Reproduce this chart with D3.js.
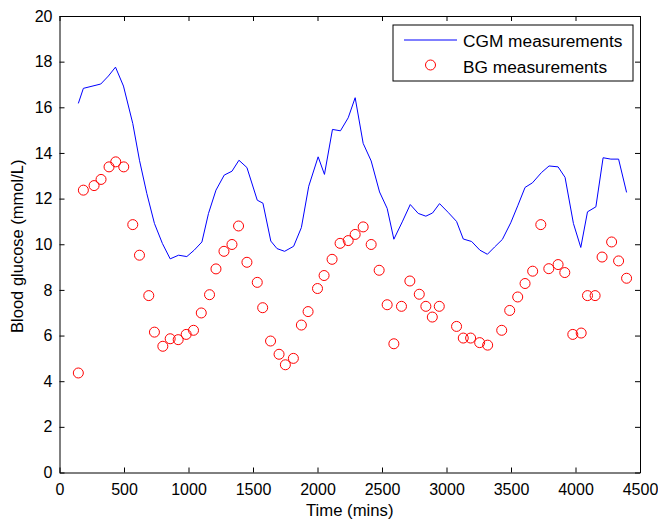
<!DOCTYPE html>
<html>
<head>
<meta charset="utf-8">
<script src="https://cdn.jsdelivr.net/npm/d3@7"></script>
<style>
    body { margin: 0; background: #fff; }
    svg { display: block; font-family: Arial, "Liberation Sans", sans-serif; }
</style>
</head>
<body>
<div id="chart"></div>
<script>
// CGM sensor trace (time in minutes, glucose in mmol/L)
const cgmTime = [146, 185, 320, 379, 434, 496, 568, 620, 677, 736, 798, 858, 923, 987, 1044, 1104,
    1155, 1213, 1277, 1337, 1391, 1453, 1533, 1577, 1638, 1686, 1745, 1815, 1875, 1932, 2005, 2054,
    2116, 2178, 2238, 2292, 2354, 2416, 2481, 2540, 2592, 2657, 2719, 2781, 2840, 2892, 2946, 3012,
    3078, 3130, 3195, 3259, 3317, 3373, 3433, 3498, 3554, 3609, 3666, 3736, 3795, 3865, 3919, 3984,
    4041, 4093, 4158, 4214, 4274, 4334, 4396];
const cgmValue = [16.17, 16.83, 17.02, 17.37, 17.76, 16.93, 15.29, 13.68, 12.22, 10.91, 10.03, 9.36, 9.52, 9.46, 9.74, 10.1,
    11.35, 12.37, 13.03, 13.2, 13.68, 13.36, 11.93, 11.8, 10.14, 9.81, 9.69, 9.91, 10.73, 12.54, 13.83, 13.06,
    15.03, 14.97, 15.54, 16.42, 14.42, 13.65, 12.29, 11.57, 10.22, 10.98, 11.74, 11.35, 11.23, 11.37, 11.78, 11.4,
    11.0, 10.23, 10.12, 9.74, 9.56, 9.88, 10.21, 10.94, 11.71, 12.49, 12.69, 13.14, 13.43, 13.39, 12.93, 10.91,
    9.86, 11.42, 11.64, 13.79, 13.73, 13.73, 12.27];

// finger-prick blood glucose measurements
const bgTime = [146, 185, 268, 322, 384, 436, 498, 568, 620, 692, 736, 801, 858, 920, 982, 1039,
    1099, 1163, 1213, 1275, 1337, 1388, 1453, 1533, 1575, 1636, 1702, 1751, 1813, 1875, 1927, 2000,
    2051, 2113, 2175, 2238, 2292, 2354, 2416, 2478, 2540, 2592, 2651, 2716, 2789, 2840, 2890, 2944,
    3078, 3130, 3187, 3257, 3319, 3428, 3490, 3552, 3609, 3668, 3731, 3793, 3865, 3917, 3979, 4044,
    4093, 4152, 4206, 4280, 4334, 4396];
const bgValue = [4.36, 12.37, 12.57, 12.84, 13.39, 13.61, 13.39, 10.86, 9.52, 7.75, 6.15, 5.53, 5.86, 5.82, 6.05, 6.23,
    6.99, 7.79, 8.92, 9.69, 9.99, 10.8, 9.21, 8.33, 7.22, 5.76, 5.18, 4.72, 5.0, 6.46, 7.05, 8.06,
    8.63, 9.34, 10.04, 10.16, 10.43, 10.76, 9.99, 8.86, 7.35, 5.64, 7.28, 8.39, 7.81, 7.28, 6.81, 7.28,
    6.4, 5.89, 5.89, 5.69, 5.58, 6.23, 7.1, 7.69, 8.28, 8.82, 10.86, 8.93, 9.11, 8.76, 6.05, 6.11,
    7.75, 7.75, 9.44, 10.1, 9.27, 8.51];

const xTicks = d3.range(0, 4501, 500);
const yTicks = d3.range(0, 21, 2);
const seriesNames = ['CGM measurements', 'BG measurements'];

const width = 658, height = 521;
const plot = { left: 59.5, right: 640, top: 16, bottom: 472.5 };

const svg = d3.select('#chart').append('svg')
    .attr('width', width)
    .attr('height', height);

const xScale = d3.scaleLinear().domain([0, 4500]).range([plot.left, plot.right]);
const yScale = d3.scaleLinear().domain([0, 20]).range([plot.bottom, plot.top]);

// axes, ticks pointing inward like matlab
const xAxis = d3.axisBottom(xScale).tickValues(xTicks).tickFormat(d3.format('d'))
    .tickSize(-5).tickSizeOuter(0).tickPadding(11);
const yAxis = d3.axisLeft(yScale).tickValues(yTicks).tickFormat(d3.format('d'))
    .tickSize(-5).tickSizeOuter(0).tickPadding(7);

svg.append('g')
    .attr('class', 'x axis')
    .attr('transform', `translate(0,${plot.bottom})`)
    .call(xAxis);
svg.append('g')
    .attr('class', 'x axis top')
    .attr('transform', `translate(0,${plot.top})`)
    .call(d3.axisTop(xScale).tickValues(xTicks).tickSize(-5).tickSizeOuter(0).tickFormat(''));
svg.append('g')
    .attr('class', 'y axis')
    .attr('transform', `translate(${plot.left},0)`)
    .call(yAxis);
svg.append('g')
    .attr('class', 'y axis right')
    .attr('transform', `translate(${plot.right},0)`)
    .call(d3.axisRight(yScale).tickValues(yTicks).tickSize(-5).tickSizeOuter(0).tickFormat(''));

svg.selectAll('.axis path, .axis line').attr('stroke', '#000').attr('stroke-width', 1);
svg.selectAll('.axis text').attr('font-size', 16).attr('fill', '#000')
    .attr('font-family', 'Arial, "Liberation Sans", sans-serif');

// axis titles
svg.append('text')
    .attr('x', (plot.left + plot.right) / 2)
    .attr('y', 515.5)
    .attr('text-anchor', 'middle')
    .attr('font-size', 16.7)
    .text('Time (mins)');
svg.append('text')
    .attr('transform', `translate(22.7,${(plot.top + plot.bottom) / 2 + 2}) rotate(-90)`)
    .attr('text-anchor', 'middle')
    .attr('font-size', 16.5)
    .text('Blood glucose (mmol/L)');

// CGM line
const cgmData = cgmTime.map((t, i) => ({ t: t, v: cgmValue[i] }));
const line = d3.line().x(d => xScale(d.t)).y(d => yScale(d.v));
svg.append('path')
    .datum(cgmData)
    .attr('fill', 'none')
    .attr('stroke', '#0000ff')
    .attr('stroke-width', 1)
    .attr('d', line);

// BG circles
const bgData = bgTime.map((t, i) => ({ t: t, v: bgValue[i] }));
svg.append('g')
    .selectAll('circle')
    .data(bgData)
    .enter().append('circle')
    .attr('cx', d => xScale(d.t))
    .attr('cy', d => yScale(d.v))
    .attr('r', 5)
    .attr('fill', 'none')
    .attr('stroke', '#ff0000')
    .attr('stroke-width', 1);

// legend
const legend = svg.append('g').attr('transform', 'translate(393,25)');
legend.append('rect')
    .attr('width', 240)
    .attr('height', 56)
    .attr('fill', '#fff')
    .attr('stroke', '#000');
legend.append('line')
    .attr('x1', 11).attr('x2', 64)
    .attr('y1', 15).attr('y2', 15)
    .attr('stroke', '#0000ff');
legend.append('circle')
    .attr('cx', 37.5).attr('cy', 40)
    .attr('r', 5)
    .attr('fill', 'none')
    .attr('stroke', '#ff0000');
legend.selectAll('text.label')
    .data(seriesNames)
    .enter().append('text')
    .attr('class', 'label')
    .attr('x', 70)
    .attr('y', (d, i) => 21.7 + i * 26.6)
    .attr('font-size', 17.3)
    .text(d => d);
</script>
</body>
</html>
